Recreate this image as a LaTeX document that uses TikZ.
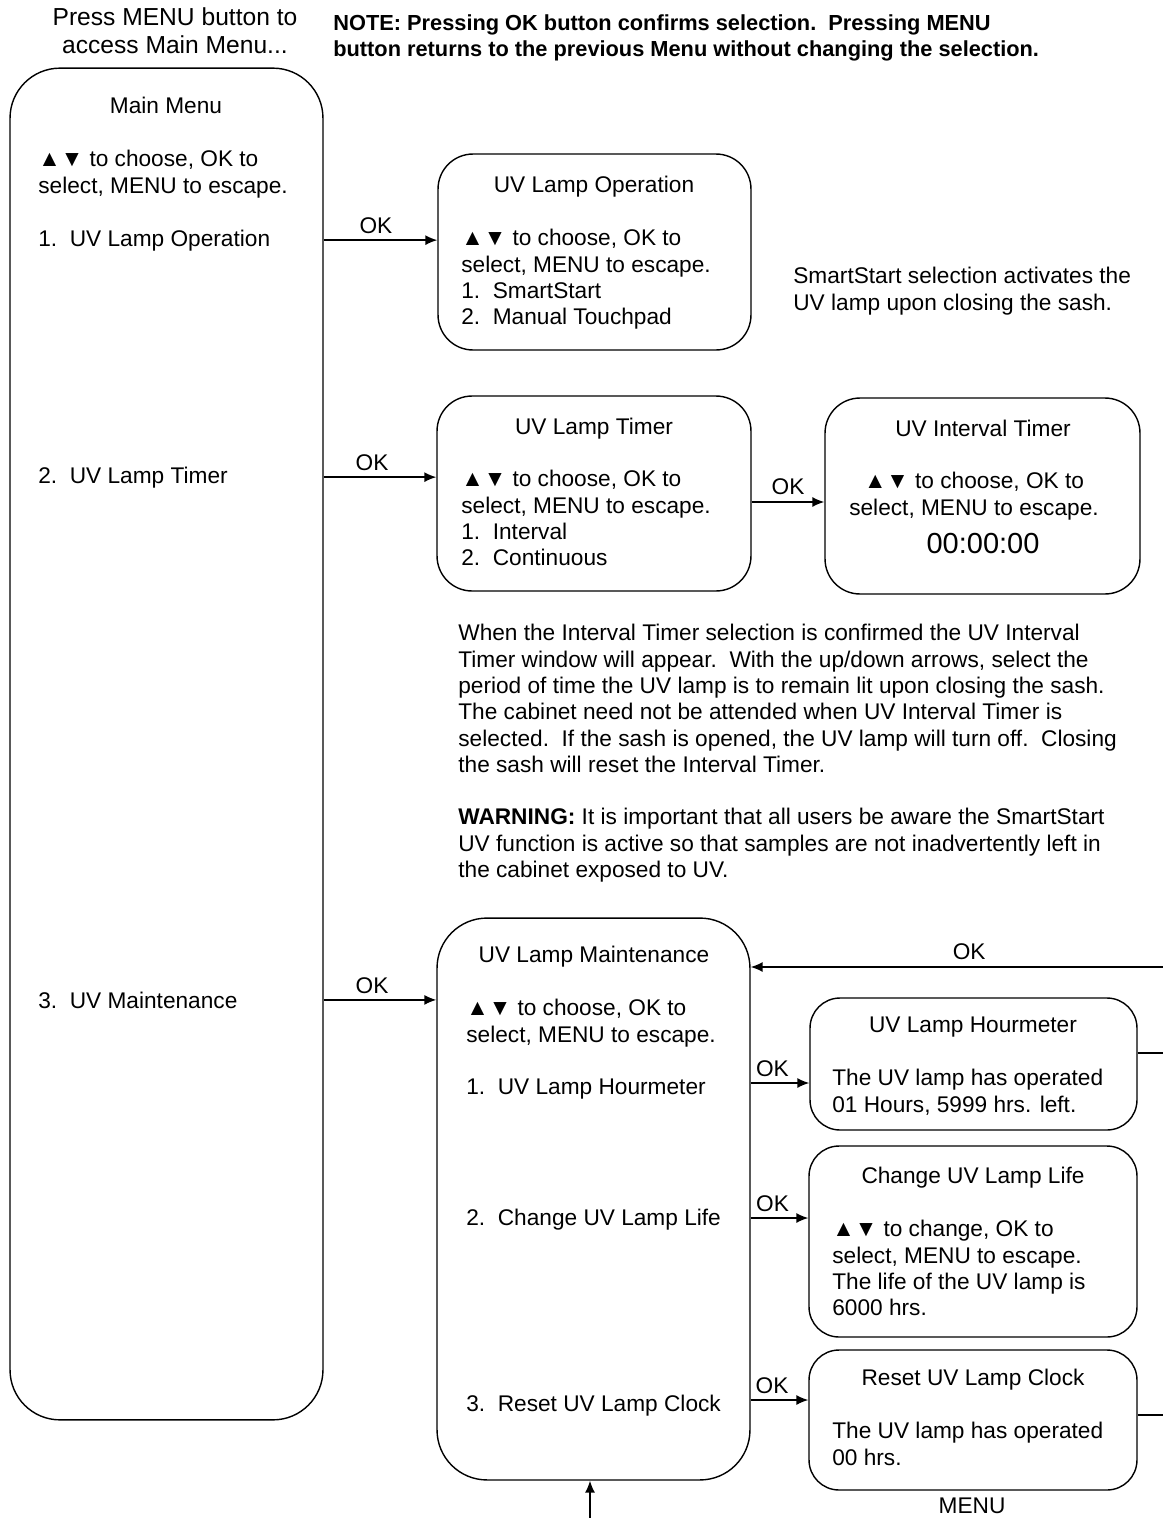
\documentclass[tikz,border=0pt]{standalone}
\usepackage{fontspec}
\setmainfont{Liberation Sans}
\usetikzlibrary{arrows.meta}
\tikzset{
  menubox/.style={draw, line width=.8pt, inner sep=0pt, rounded corners=.7cm},
  okarrow/.style={draw, line width=.8pt, -{Latex[length=2.4mm,width=2mm]}},
  txt/.style={inner sep=0pt, font=\fontsize{12.9}{15}\selectfont, align=left},
  oklabel/.style={inner sep=0pt, font=\fontsize{12.9}{15}\selectfont}
}
\newcommand{\chooseline}{▲▼ to choose, OK to}

\begin{document}
\begin{tikzpicture}[x=.02cm, y=-.02cm]
	\useasboundingbox (0,0) rectangle (1163,1518);
	% boxes
	\node[menubox, rounded corners=1cm, minimum width=6.26cm, minimum height=27.04cm] (mainmenu) at (166.5,744) {};
	\node[menubox, minimum width=6.26cm, minimum height=3.92cm] (lampop) at (594.5,252) {};
	\node[menubox, minimum width=6.28cm, minimum height=3.9cm] (lamptimer) at (594,493.5) {};
	\node[menubox, minimum width=6.3cm, minimum height=3.92cm] (ivtimer) at (982.5,496) {};
	\node[menubox, rounded corners=1cm, minimum width=6.26cm, minimum height=11.24cm] (maint) at (593.5,1199) {};
	\node[menubox, rounded corners=.6cm, minimum width=6.54cm, minimum height=2.64cm] (hourmeter) at (973.5,1064) {};
	\node[menubox, rounded corners=.6cm, minimum width=6.56cm, minimum height=3.82cm] (lamplife) at (973,1241.5) {};
	\node[menubox, rounded corners=.6cm, minimum width=6.56cm, minimum height=2.8cm] (resetclock) at (973,1420) {};

	% main menu
	\node[txt, anchor=base] (maintitle) at (166,113) {Main Menu};
	\node[txt, anchor=north west] (mainhelp) at (38,150) {\chooseline\\select, MENU to escape.};
	\node[txt, anchor=base west] (mainone) at (38,246) {1.\ \ UV Lamp Operation};
	\node[txt, anchor=base west] (maintwo) at (38,483) {2.\ \ UV Lamp Timer};
	\node[txt, anchor=base west] (mainthree) at (38,1008) {3.\ \ UV Maintenance};

	% uv lamp operation
	\node[txt, anchor=base] (optitle) at (594,192) {UV Lamp Operation};
	\node[txt, anchor=north west] (ophelp) at (461,229) {\chooseline\\select, MENU to escape.\\1.\ \ SmartStart\\2.\ \ Manual Touchpad};

	% uv lamp timer
	\node[txt, anchor=base] (timertitle) at (594,434) {UV Lamp Timer};
	\node[txt, anchor=north west] (timerhelp) at (461,470) {\chooseline\\select, MENU to escape.\\1.\ \ Interval\\2.\ \ Continuous};

	% uv interval timer
	\node[txt, anchor=base] (ivtitle) at (983,436) {UV Interval Timer};
	\node[txt, anchor=north, align=center] (ivhelp) at (974,472) {\chooseline\\select, MENU to escape.};
	\node[txt, anchor=base, font=\fontsize{16.5}{19}\selectfont] (ivclock) at (983,553) {00:00:00};

	% maintenance
	\node[txt, anchor=base] (mttitle) at (594,962) {UV Lamp Maintenance};
	\node[txt, anchor=north west] (mthelp) at (466,999) {\chooseline\\select, MENU to escape.};
	\node[txt, anchor=base west] (mtone) at (466,1094) {1.\ \ UV Lamp Hourmeter};
	\node[txt, anchor=base west] (mttwo) at (466,1225) {2.\ \ Change UV Lamp Life};
	\node[txt, anchor=base west] (mtthree) at (466,1411) {3.\ \ Reset UV Lamp Clock};

	% hourmeter, lamp life, reset
	\node[txt, anchor=base] (hrtitle) at (973,1032) {UV Lamp Hourmeter};
	\node[txt, anchor=north west] (hrtext) at (832,1069) {The UV lamp has operated\\01 Hours, 5999 hrs. left.};
	\node[txt, anchor=base] (lftitle) at (973,1183) {Change UV Lamp Life};
	\node[txt, anchor=north west] (lftext) at (832,1220) {▲▼ to change, OK to\\select, MENU to escape.\\The life of the UV lamp is\\6000 hrs.};
	\node[txt, anchor=base] (rstitle) at (973,1385) {Reset UV Lamp Clock};
	\node[txt, anchor=north west] (rstext) at (832,1422) {The UV lamp has operated\\00 hrs.};

	% notes
	\node[txt, anchor=north, align=center, font=\fontsize{14}{16}\selectfont] (pressnote) at (175,7) {Press MENU button to\\access Main Menu...};
	\node[txt, anchor=north west, font=\bfseries\fontsize{12.4}{15}\selectfont] (topnote) at (333,14) {NOTE: Pressing OK button confirms selection.\ \ Pressing MENU\\button returns to the previous Menu without changing the selection.};
	\node[txt, anchor=north west] (smartnote) at (793,267) {SmartStart selection activates the\\UV lamp upon closing the sash.};
	\node[txt, anchor=north west] (ivnote) at (458,624) {When the Interval Timer selection is confirmed the UV Interval\\Timer window will appear.\ \ With the up/down arrows, select the\\period of time the UV lamp is to remain lit upon closing the sash.\\The cabinet need not be attended when UV Interval Timer is\\selected.\ \ If the sash is opened, the UV lamp will turn off.\ \ Closing\\the sash will reset the Interval Timer.};
	\node[txt, anchor=north west] (warnnote) at (458,808) {\textbf{WARNING:} It is important that all users be aware the SmartStart\\UV function is active so that samples are not inadvertently left in\\the cabinet exposed to UV.};

	% connectors
	\coordinate (okin) at (1163,967);
	\coordinate (hrout) at (1163,1053);
	\coordinate (rsout) at (1163,1415);
	\coordinate (menuin) at (590,1518);
	\draw[okarrow] (mainmenu.east |- mainone) -- (lampop.west |- mainone) node[oklabel, pos=.46, above=3pt] {OK};
	\draw[okarrow] (mainmenu.east |- maintwo) -- (lamptimer.west |- maintwo) node[oklabel, pos=.43, above=3pt] {OK};
	\draw[okarrow] (mainmenu.east |- mainthree) -- (maint.west |- mainthree) node[oklabel, pos=.43, above=3pt] {OK};
	\draw[okarrow] (lamptimer.east |- 0,502) -- (ivtimer.west |- 0,502) node[oklabel, midway, above=4pt] {OK};
	\draw[okarrow] (maint.east |- 0,1083) -- (hourmeter.west |- 0,1083) node[oklabel, pos=.37, above=3pt] {OK};
	\draw[okarrow] (maint.east |- 0,1218) -- (lamplife.west |- 0,1218) node[oklabel, pos=.38, above=3pt] {OK};
	\draw[okarrow] (maint.east |- 0,1400) -- (resetclock.west |- 0,1400) node[oklabel, pos=.37, above=3pt] {OK};
	\draw[okarrow] (okin) -- (maint.east |- okin) node[oklabel, pos=.47, above=4pt] {OK};
	\draw[line width=.8pt] (hourmeter.east |- hrout) -- (hrout);
	\draw[line width=.8pt] (resetclock.east |- rsout) -- (rsout);
	\draw[okarrow] (menuin) -- (maint.south -| menuin);
	\node[oklabel] (menulabel) at (972,1506) {MENU};
\end{tikzpicture}
\end{document}
